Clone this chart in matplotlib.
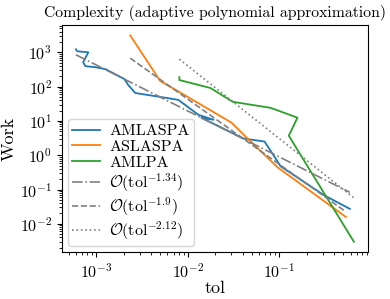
import numpy as np
import matplotlib
matplotlib.use('Agg')
import matplotlib.pyplot as plt

plt.rcParams['font.family'] = 'serif'
plt.rcParams['font.serif'] = ['cmr10', 'DejaVu Serif']
plt.rcParams['mathtext.fontset'] = 'cm'
plt.rcParams['axes.formatter.use_mathtext'] = True

# AMLASPA
tol_amlaspa = [6.0e-4, 6.2e-4, 8.2e-4, 7.2e-4, 7.6e-4, 9.75e-4, 1.26e-3, 2.03e-3,
               2.24e-3, 2.67e-3, 5.0e-3, 7.9e-3, 1.31e-2, 1.91e-2, 1.41e-2,
               4.07e-2, 6.9e-2, 1.035e-1, 3.06e-1, 5.9e-1]
work_amlaspa = [1220, 1070, 1000, 514, 394, 368, 323, 166,
                111, 65, 50, 41, 15, 10.8, 12.3,
                3.06, 2.5, 0.474, 0.069, 0.0272]

# ASLASPA
tol_aslaspa = [2.35e-3, 5.0e-3, 7.7e-3, 3.0e-2, 4.5e-2, 9.6e-2, 5.33e-1]
work_aslaspa = [3100, 145, 75, 8.9, 3.06, 0.44, 0.0158]

# AMLPA
tol_amlpa = [8.1e-3, 8.1e-3, 1.77e-2, 3.1e-2, 8.05e-2, 1.58e-1, 1.27e-1, 6.53e-1]
work_amlpa = [189, 155, 91, 36, 24, 12.4, 3.7, 0.003]

# reference rates: (rate, log10 constant)
rates = [1.34, 1.9, 2.12]
log_consts = [-1.39, -2.166, -1.635]

fig, ax = plt.subplots(figsize=(3.9, 2.99), dpi=100)
fig.subplots_adjust(left=0.159, right=0.943, bottom=0.157, top=0.916)

ax.loglog(tol_amlaspa, work_amlaspa, color='tab:blue', lw=1.3, label='AMLASPA')
ax.loglog(tol_aslaspa, work_aslaspa, color='tab:orange', lw=1.3, label='ASLASPA')
ax.loglog(tol_amlpa, work_amlpa, color='tab:green', lw=1.3, label='AMLPA')

styles = ['-.', '--', ':']
tols = [tol_amlaspa, tol_aslaspa, tol_amlpa]
for r, c, ls, t in zip(rates, log_consts, styles, tols):
    tt = np.array([min(t), max(t)])
    ax.loglog(tt, 10**c * tt**(-r), color='gray', ls=ls, lw=1.2,
              label=r'$\mathcal{O}(\mathrm{tol}^{-%s})$' % r)

ax.set_xlabel('tol', fontsize=13, labelpad=0)
ax.set_ylabel('Work', fontsize=13, labelpad=2)
ax.set_title('Complexity (adaptive polynomial approximation)', fontsize=11.3)
ax.tick_params(labelsize=11.5)
ax.legend(loc='lower left', fontsize=11.5, labelspacing=0.1,
          handlelength=1.7, handletextpad=0.6, borderpad=0.3,
          borderaxespad=0.35)

fig.savefig('out.png', dpi=100)
